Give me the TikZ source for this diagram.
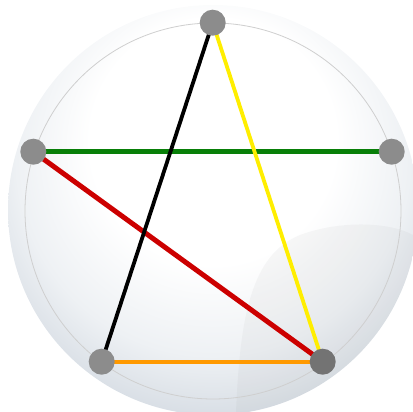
\documentclass[tikz,border=0pt]{standalone}
\usetikzlibrary{backgrounds}
\definecolor{bgedge}{HTML}{D8DEE5}
\definecolor{bgmid}{HTML}{EEF1F4}
\definecolor{ringgray}{HTML}{CFCFCF}
\definecolor{nodegray}{HTML}{8C8C8C}
\definecolor{nodedark}{HTML}{737373}
\definecolor{lgreen}{HTML}{087F08}
\definecolor{lred}{HTML}{CC0000}
\definecolor{lyellow}{HTML}{FFEE00}
\definecolor{lorange}{HTML}{FF9900}
\pgfdeclareradialshading{discshade}{\pgfpoint{0bp}{12bp}}{color(0bp)=(white); color(15bp)=(white); color(24bp)=(bgmid); color(30bp)=(bgedge); color(50bp)=(bgedge)}
\begin{document}
\begin{tikzpicture}[x=1pt,y=-1pt,
  vertex/.style={circle,fill=nodegray,minimum size=26pt,inner sep=0pt},
  ring/.style={draw=ringgray,line width=0.8pt},
  edge/.style={line width=#1},
]
\useasboundingbox (0,0) rectangle (413,412);
\node[vertex] (t) at (212.7,22.7) {};
\node[vertex] (l) at (33.3,151.7) {};
\node[vertex] (r) at (391.7,151.7) {};
\node[vertex] (bl) at (101.7,361.7) {};
\node[vertex,fill=nodedark] (br) at (322.7,361.7) {};
\begin{pgfonlayer}{background}
  \shade[shading=discshade] (213,210) circle[radius=205];
  \begin{scope}
    \clip (213,210) circle[radius=205];
    \fill[gray,opacity=0.06] (236,412) .. controls (240,320) and (250,255) .. (300,235) .. controls (340,220) and (390,222) .. (413,235) -- (413,412) -- cycle;
  \end{scope}
  \draw[ring] (213,211) circle[radius=188];
  \draw[edge=5pt,lgreen] (l.center) -- (r.center);
  \draw[edge=5pt,lred] (l.center) -- (br.center);
  \draw[edge=3.8pt,black] (t.center) -- (bl.center);
  \draw[edge=3.8pt,lyellow] (t.center) -- (br.center);
  \draw[edge=4.2pt,lorange] (bl.center) -- (br.center);
\end{pgfonlayer}
\end{tikzpicture}
\end{document}
